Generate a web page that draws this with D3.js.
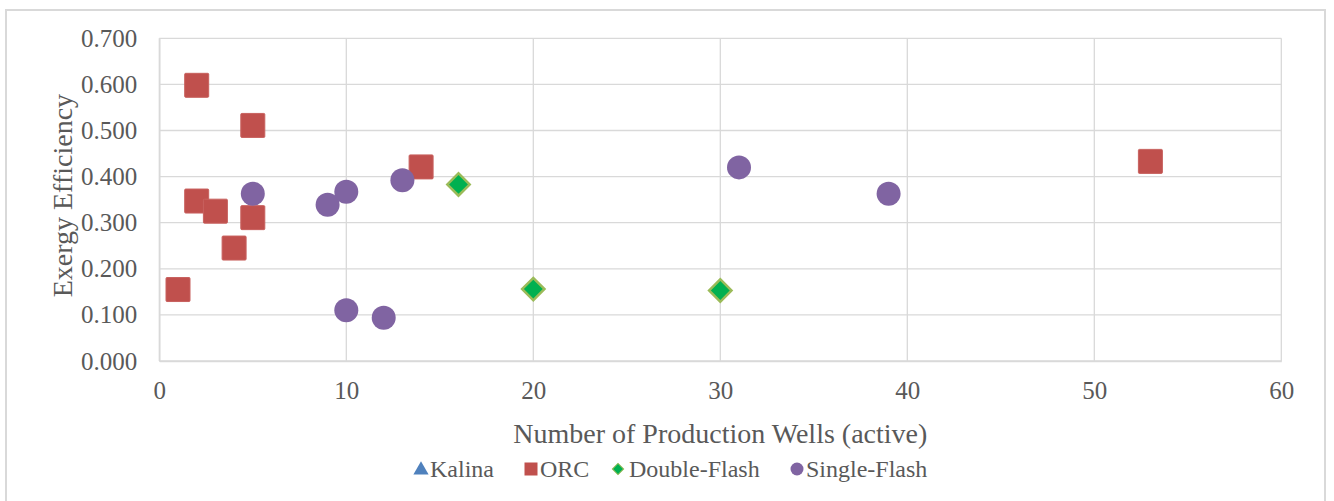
<!DOCTYPE html>
<html><head><meta charset="utf-8">
<script src="https://cdn.jsdelivr.net/npm/d3@7"></script>
<style>body{margin:0;background:#fff;}svg{display:block;}text{font-family:"Liberation Serif",serif;fill:#595959;}</style>
</head><body>
<svg id="c" width="1334" height="501"></svg>
<script>
const seriesNames = ["Kalina", "ORC", "Double-Flash", "Single-Flash"];
const kalinaWells = [], kalinaEff = [];
const orcWells = [2, 5, 2, 3, 5, 4, 1, 14, 53];
const orcEff = [0.598, 0.511, 0.347, 0.325, 0.311, 0.245, 0.155, 0.421, 0.433];
const dfWells = [16, 20, 30];
const dfEff = [0.383, 0.156, 0.153];
const sfWells = [5, 9, 10, 13, 10, 12, 31, 39];
const sfEff = [0.363, 0.339, 0.367, 0.392, 0.110, 0.094, 0.420, 0.363];
const xTicks = [0, 10, 20, 30, 40, 50, 60];
const yTicks = [0, 0.1, 0.2, 0.3, 0.4, 0.5, 0.6, 0.7];
const xTitle = "Number of Production Wells (active)";
const yTitle = "Exergy Efficiency";

const svg = d3.select("#c");
const L = 159.3, R = 1281.3, T = 38.3, B = 361;
const x = d3.scaleLinear().domain([0, 60]).range([L, R]);
const y = d3.scaleLinear().domain([0, 0.7]).range([B, T]);
const FONT = '"Liberation Serif",serif';

// chart border
svg.append("rect").attr("x", 6).attr("y", 10).attr("width", 1319).attr("height", 520)
  .attr("fill", "#fff").attr("stroke", "#d9d9d9").attr("stroke-width", 2);

// gridlines
svg.append("g").selectAll("line").data(yTicks).join("line")
  .attr("x1", L).attr("x2", R).attr("y1", d => y(d)).attr("y2", d => y(d))
  .attr("stroke", "#d9d9d9").attr("stroke-width", 1.3);
svg.append("g").selectAll("line").data(xTicks).join("line")
  .attr("y1", T).attr("y2", B).attr("x1", d => x(d)).attr("x2", d => x(d))
  .attr("stroke", "#d9d9d9").attr("stroke-width", 1.3);

// axes
const xAxis = svg.append("g").attr("transform", `translate(0,${B})`)
  .call(d3.axisBottom(x).tickValues(xTicks).tickSize(0).tickPadding(21).tickFormat(d3.format("d")));
const yAxis = svg.append("g").attr("transform", `translate(${L},0)`)
  .call(d3.axisLeft(y).tickValues(yTicks).tickSize(0).tickPadding(22).tickFormat(d3.format(".3f")));
[xAxis, yAxis].forEach(g => {
  g.select(".domain").attr("stroke", "#d9d9d9").attr("stroke-width", 1.5);
  g.selectAll("text").style("font-family", FONT).style("font-size", "25px").attr("fill", "#595959");
});
xAxis.selectAll("text").attr("dy", "0.68em");

// titles
svg.append("text").attr("x", (L + R) / 2).attr("y", 433).attr("text-anchor", "middle")
  .attr("dominant-baseline", "central").style("font-size", "28px").text(xTitle);
svg.append("text").attr("transform", `translate(62,${(T + B) / 2 - 4}) rotate(-90)`)
  .attr("text-anchor", "middle").attr("dominant-baseline", "central").style("font-size", "28px").text(yTitle);

// markers
const sq = 24;
svg.append("g").selectAll("rect").data(d3.zip(orcWells, orcEff)).join("rect")
  .attr("x", d => x(d[0]) - sq / 2).attr("y", d => y(d[1]) - sq / 2)
  .attr("width", sq).attr("height", sq).attr("rx", 1)
  .attr("fill", "#C0504D").attr("stroke", "#c8615e").attr("stroke-width", 1);
svg.append("g").selectAll("circle").data(d3.zip(sfWells, sfEff)).join("circle")
  .attr("cx", d => x(d[0])).attr("cy", d => y(d[1])).attr("r", 12)
  .attr("fill", "#8064A2");
svg.append("g").selectAll("path").data(d3.zip(dfWells, dfEff)).join("path")
  .attr("d", d3.symbol().type(d3.symbolSquare).size(250))
  .attr("transform", d => `translate(${x(d[0])},${y(d[1])}) rotate(45)`)
  .attr("fill", "#00B050").attr("stroke", "#9BBB59").attr("stroke-width", 2.5);
svg.append("g").selectAll("path").data(d3.zip(kalinaWells, kalinaEff)).join("path")
  .attr("transform", d => `translate(${x(d[0])},${y(d[1])})`)
  .attr("d", d3.symbol().type(d3.symbolTriangle).size(200)).attr("fill", "#4F81BD");

// legend
const legY = 469;
const legend = [
  {name: seriesNames[0], mx: 421, tx: 430, shape: "tri"},
  {name: seriesNames[1], mx: 531, tx: 540, shape: "sq"},
  {name: seriesNames[2], mx: 618, tx: 629, shape: "dia"},
  {name: seriesNames[3], mx: 797, tx: 806, shape: "cir"}
];
const lg = svg.append("g");
legend.forEach(e => {
  if (e.shape === "tri") lg.append("path").attr("d", d3.symbol().type(d3.symbolTriangle).size(100)).attr("transform", `translate(${e.mx},${legY + 1})`).attr("fill", "#4F81BD");
  if (e.shape === "sq") lg.append("rect").attr("x", e.mx - 6.5).attr("y", legY - 6.5).attr("width", 13).attr("height", 13).attr("fill", "#C0504D");
  if (e.shape === "dia") lg.append("path").attr("d", d3.symbol().type(d3.symbolSquare).size(64)).attr("transform", `translate(${e.mx},${legY}) rotate(45)`).attr("fill", "#00B050").attr("stroke", "#9BBB59").attr("stroke-width", 1);
  if (e.shape === "cir") lg.append("circle").attr("cx", e.mx).attr("cy", legY).attr("r", 6.5).attr("fill", "#8064A2");
  lg.append("text").attr("x", e.tx).attr("y", legY).attr("dominant-baseline", "central").style("font-size", "24px").text(e.name);
});
</script>
</body></html>
